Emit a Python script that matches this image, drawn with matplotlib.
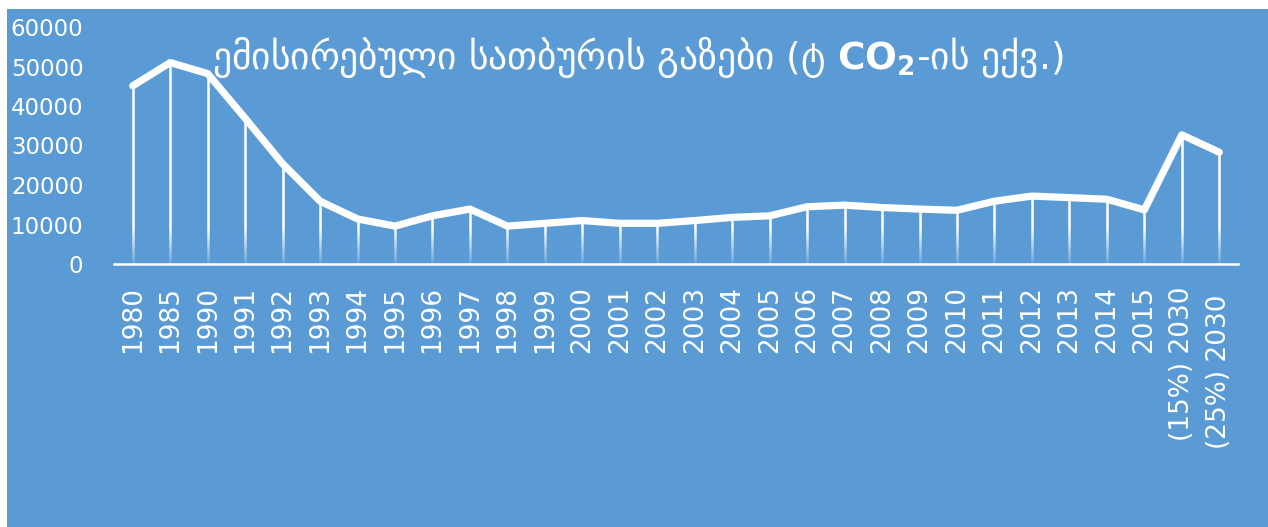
import matplotlib
matplotlib.use("Agg")
import matplotlib.pyplot as plt
import matplotlib.colors as mcolors
import numpy as np

# categories and values (t CO2 eq.)
years = ["1980", "1985", "1990", "1991", "1992", "1993", "1994", "1995",
         "1996", "1997", "1998", "1999", "2000", "2001", "2002", "2003",
         "2004", "2005", "2006", "2007", "2008", "2009", "2010", "2011",
         "2012", "2013", "2014", "2015", "(15%) 2030", "(25%) 2030 "]
emissions = [45100, 51000, 48200, 36900, 25400, 15900, 11400, 9600,
             12200, 13900, 9600, 10300, 11000, 10300, 10300, 11000,
             11800, 12200, 14500, 14900, 14300, 13900, 13600, 15900,
             17200, 16800, 16400, 13700, 32700, 28300]
yticks = [0, 10000, 20000, 30000, 40000, 50000, 60000]
title = r"ემისირებული სათბურის გაზები (ტ $\mathbf{CO}_\mathbf{2}$-ის ექვ.)"

bg = "#5b9bd5"
W, H = 1268, 527

fig = plt.figure(figsize=(W / 100, H / 100), dpi=100, facecolor="white")
# blue chart area
fig.patches.append(plt.Rectangle((7 / W, 0), 1 - 7 / W, 1 - 9 / H,
                                 transform=fig.transFigure, facecolor=bg,
                                 edgecolor="none", zorder=0))

ax = fig.add_axes([114 / W, 1 - 264 / H, 1124 / W, 237 / H])
ax.set_facecolor("none")
ax.set_zorder(2)

x = np.arange(len(years))

# drop lines
ax.vlines(x, 0, emissions, color="white", lw=1.8, zorder=1)
# fade the drop lines near the axis with a background-coloured gradient
rgb = mcolors.to_rgb(bg)
fade = np.zeros((100, 1, 4))
fade[:, 0, :3] = rgb
fade[:, 0, 3] = np.linspace(0.9, 0.0, 100)
ax.imshow(fade, extent=(-0.5, len(years) - 0.5, 0, 9000), origin="lower",
          aspect="auto", zorder=2, interpolation="bilinear")

ax.plot(x, emissions, color="white", lw=5.2, solid_capstyle="round",
        solid_joinstyle="round", zorder=3)

ax.set_xlim(-0.5, len(years) - 0.5)
ax.set_ylim(0, 60000)
ax.set_yticks(yticks)
ax.set_yticklabels([str(v) for v in yticks])
ax.set_xticks(x)
ax.set_xticklabels(years, rotation=90, va="top", ha="center")

for s in ["top", "right", "left"]:
    ax.spines[s].set_visible(False)
ax.spines["bottom"].set_color("white")
ax.spines["bottom"].set_linewidth(1.8)
ax.spines["bottom"].set_zorder(4)
ax.tick_params(axis="y", length=0, pad=22, labelsize=16.5, labelcolor="white")
ax.tick_params(axis="x", length=0, pad=16, labelsize=19, labelcolor="white")

fig.text(638 / W, 1 - 57 / H, title, ha="center", va="center",
         color="white", fontsize=27, family=["DejaVu Sans"], zorder=5)

fig.savefig("out.png", dpi=100, facecolor="white")
